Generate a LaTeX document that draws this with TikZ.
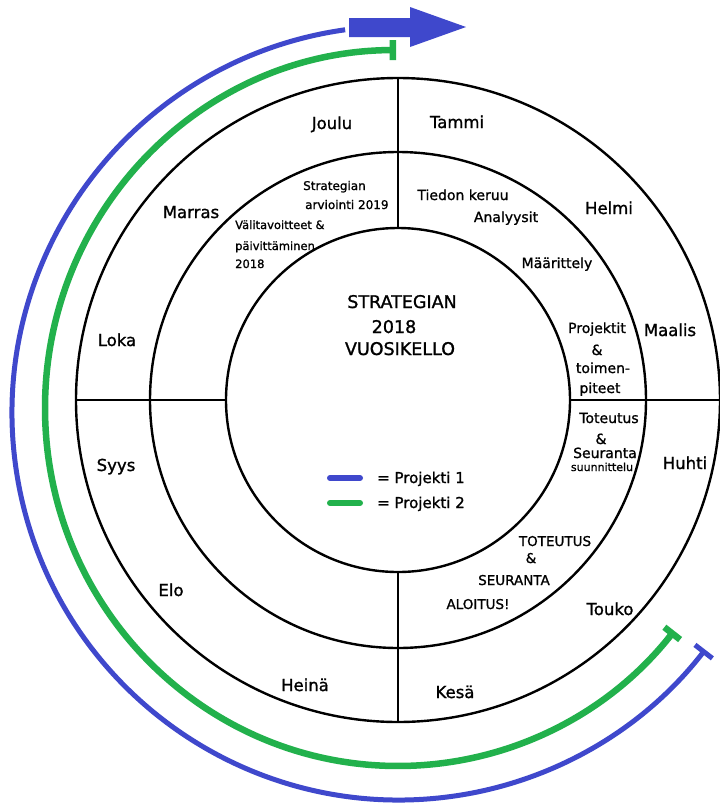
\documentclass[tikz,border=0pt]{standalone}
\usepackage{fontspec}
\setmainfont{DejaVu Sans}[FakeBold=1.2]
\usetikzlibrary{arrows.meta}
\definecolor{projblue}{RGB}{63,72,204}
\definecolor{projgreen}{RGB}{34,177,76}
\begin{document}
\begin{tikzpicture}[x=1pt,y=1pt,
  ring/.style={circle,draw,line width=2.4pt,inner sep=0pt,outer sep=0pt},
  divider/.style={line width=2.4pt},
  month/.style={anchor=base,inner sep=0pt,font=\fontsize{16.5}{19}\selectfont},
  phase/.style={anchor=base,inner sep=0pt,font=\fontsize{14}{17}\selectfont},
  small/.style={anchor=base west,inner sep=0pt,font=\fontsize{11.5}{14}\selectfont},
  title/.style={anchor=base,inner sep=0pt,font=\fontsize{17.5}{20}\selectfont},
  blueline/.style={draw=projblue,line width=5pt},
  greenline/.style={draw=projgreen,line width=6.5pt},
]
\useasboundingbox (0,0) rectangle (720,-807);
\fill[white] (0,0) rectangle (720,-807);

% rings of the year clock
\coordinate (C) at (398,-400);
\node[ring,minimum size=644pt] (outer) at (C) {};
\node[ring,minimum size=496pt] (middle) at (C) {};
\node[ring,minimum size=344pt] (inner) at (C) {};

% quarter dividers
\draw[divider] (outer.north) -- (inner.north);
\draw[divider] (outer.south) -- (inner.south);
\draw[divider] (outer.west) -- (inner.west);
\draw[divider] (outer.east) -- (inner.east);

% project 1: long arc with arrow at the top
\draw[blueline,-{Bar[width=22pt]},shift={(399,-413)}]
  (98:387) arc[start angle=98,end angle=322.3,radius=387];
\fill[projblue] (349,-18) -- (410,-18) -- (410,-7) -- (466,-27)
  -- (410,-47) -- (410,-37) -- (349,-37) -- cycle;

% project 2: arc with bars at both ends
\draw[greenline,{Bar[width=20pt]}-{Bar[width=20pt]},shift={(398,-408)}]
  (90.3:353 and 358) arc[start angle=90.3,end angle=321.5,x radius=353,y radius=358];

% months
\node[month] (joulu)  at (332,-129) {Joulu};
\node[month] (tammi)  at (457,-128) {Tammi};
\node[month] (marras) at (191,-218) {Marras};
\node[month] (helmi)  at (609,-214) {Helmi};
\node[month] (loka)   at (117,-346) {Loka};
\node[month] (maalis) at (670,-336) {Maalis};
\node[month] (syys)   at (116,-471) {Syys};
\node[month] (huhti)  at (685,-469) {Huhti};
\node[month] (elo)    at (171,-596) {Elo};
\node[month] (touko)  at (610,-615) {Touko};
\node[month] (heina)  at (305,-691) {Heinä};
\node[month] (kesa)   at (455,-698) {Kesä};

% centre title
\node[title] (t1) at (402,-308) {STRATEGIAN};
\node[title] (t2) at (394,-333) {2018};
\node[title] (t3) at (400,-355) {VUOSIKELLO};

% phases in the middle ring
\node[small,font=\fontsize{12}{14}\selectfont] (arv1) at (303,-190) {Strategian};
\node[small,font=\fontsize{12}{14}\selectfont] (arv2) at (305,-209) {arviointi 2019};
\node[small] (val1) at (235,-229) {Välitavoitteet \&};
\node[small] (val2) at (235,-250) {päivittäminen};
\node[small] (val3) at (235,-268) {2018};

\node[phase] (tied) at (463,-200) {Tiedon keruu};
\node[phase] (anal) at (506,-222) {Analyysit};
\node[phase] (maar) at (557,-268) {Määrittely};

\node[phase] (proj1) at (597,-333) {Projektit};
\node[phase] (proj2) at (597,-355) {\&};
\node[phase] (proj3) at (603,-373) {toimen-};
\node[phase] (proj4) at (600,-393) {piteet};

\node[phase] (tot1) at (609,-423) {Toteutus};
\node[phase] (tot2) at (601,-444) {\&};
\node[phase] (tot3) at (605,-458) {Seuranta};
\node[phase,font=\fontsize{11}{13}\selectfont] (tot4) at (602,-471) {suunnittelu};

\node[phase,font=\fontsize{13.5}{16}\selectfont] (alo1) at (555,-546) {TOTEUTUS};
\node[phase,font=\fontsize{13.5}{16}\selectfont] (alo2) at (531,-563) {\&};
\node[phase,font=\fontsize{13.5}{16}\selectfont] (alo3) at (514,-585) {SEURANTA};
\node[phase,font=\fontsize{13.5}{16}\selectfont] (alo4) at (478,-609) {ALOITUS!};

% legend
\coordinate (lb1) at (330,-478);
\coordinate (lb2) at (360,-478);
\coordinate (lg1) at (330,-503);
\coordinate (lg2) at (360,-503);
\draw[draw=projblue,line width=6pt,line cap=round] (lb1) -- (lb2);
\draw[draw=projgreen,line width=6pt,line cap=round] (lg1) -- (lg2);
\node[phase,anchor=base west,font=\fontsize{15}{18}\selectfont] (leg1) at (377,-483) {= Projekti 1};
\node[phase,anchor=base west,font=\fontsize{15}{18}\selectfont] (leg2) at (377,-508) {= Projekti 2};
\end{tikzpicture}
\end{document}
